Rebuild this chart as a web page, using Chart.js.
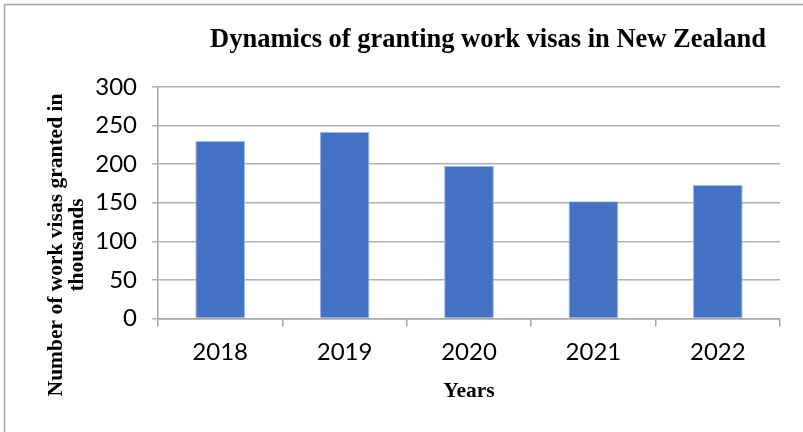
<!DOCTYPE html>
<html>
<head>
<meta charset="utf-8">
<script src="https://cdn.jsdelivr.net/npm/chart.js@4/dist/chart.umd.min.js"></script>
<style>
  html, body { margin: 0; padding: 0; background: #fff; }
</style>
</head>
<body>
<canvas id="chart" width="803" height="432"></canvas>
<script>
const years = ["2018", "2019", "2020", "2021", "2022"];
const visasGranted = [230, 242, 198, 152, 173];
const yStep = 50;
const yMax = 300;

const chartTitle = "Dynamics of granting work visas in New Zealand";
const yTitle = ["Number of work visas granted in", "thousands"];
const xTitle = "Years";

const serifBold = 'bold 21.5px "Liberation Serif", "Times New Roman", serif';

// frame + titles drawn by hand so they sit where the reference has them
const decorations = {
  id: "decorations",
  beforeDraw(chart) {
    const ctx = chart.ctx;
    ctx.save();
    ctx.strokeStyle = "#a6a6a6";
    ctx.lineWidth = 1.5;
    ctx.beginPath();
    ctx.moveTo(4.5, 440);
    ctx.lineTo(4.5, 4.5);
    ctx.lineTo(810, 4.5);
    ctx.stroke();
    ctx.restore();
  },
  afterDraw(chart) {
    const ctx = chart.ctx;
    ctx.save();
    ctx.fillStyle = "#000";
    ctx.textAlign = "center";
    ctx.textBaseline = "alphabetic";
    ctx.font = 'bold 26.5px "Liberation Serif", "Times New Roman", serif';
    ctx.fillText(chartTitle, 488, 47);

    ctx.font = serifBold;
    const area = chart.chartArea;
    ctx.fillText(xTitle, (area.left + area.right) / 2, 397);

    ctx.translate(0, 245);
    ctx.rotate(-Math.PI / 2);
    ctx.fillText(yTitle[0], 0, 62);
    ctx.fillText(yTitle[1], 0, 83);
    ctx.restore();
  }
};

new Chart(document.getElementById("chart"), {
  type: "bar",
  data: {
    labels: years,
    datasets: [
      {
        label: "Work visas",
        data: visasGranted,
        backgroundColor: "#4472C4",
        borderColor: "#a3bbe6",
        borderWidth: 1,
        barPercentage: 0.4,
        categoryPercentage: 1
      }
    ]
  },
  options: {
    responsive: false,
    animation: false,
    devicePixelRatio: 1,
    layout: { padding: { left: 0, right: 23, top: 87, bottom: 0 } },
    plugins: {
      legend: { display: false },
      title: { display: false },
      tooltip: { enabled: false }
    },
    scales: {
      x: {
        offset: true,
        grid: {
          offset: true,
          drawOnChartArea: false,
          drawTicks: true,
          tickLength: 8,
          color: "#a6a6a6",
          lineWidth: 1.5
        },
        border: { display: true, color: "#a6a6a6", width: 1.5 },
        ticks: {
          color: "#000",
          padding: 11,
          font: { family: "Lato", size: 24 }
        },
        afterFit(scale) { scale.height = 113.5; }
      },
      y: {
        min: 0,
        max: yMax,
        grid: {
          drawTicks: true,
          tickLength: 6,
          color: "#b0b0b0",
          lineWidth: 1.5
        },
        border: { display: true, color: "#a6a6a6", width: 1.5 },
        ticks: {
          stepSize: yStep,
          color: "#000",
          padding: 15,
          font: { family: "Lato", size: 24 }
        },
        afterFit(scale) { scale.width = 158; }
      }
    }
  },
  plugins: [decorations]
});
</script>
</body>
</html>
